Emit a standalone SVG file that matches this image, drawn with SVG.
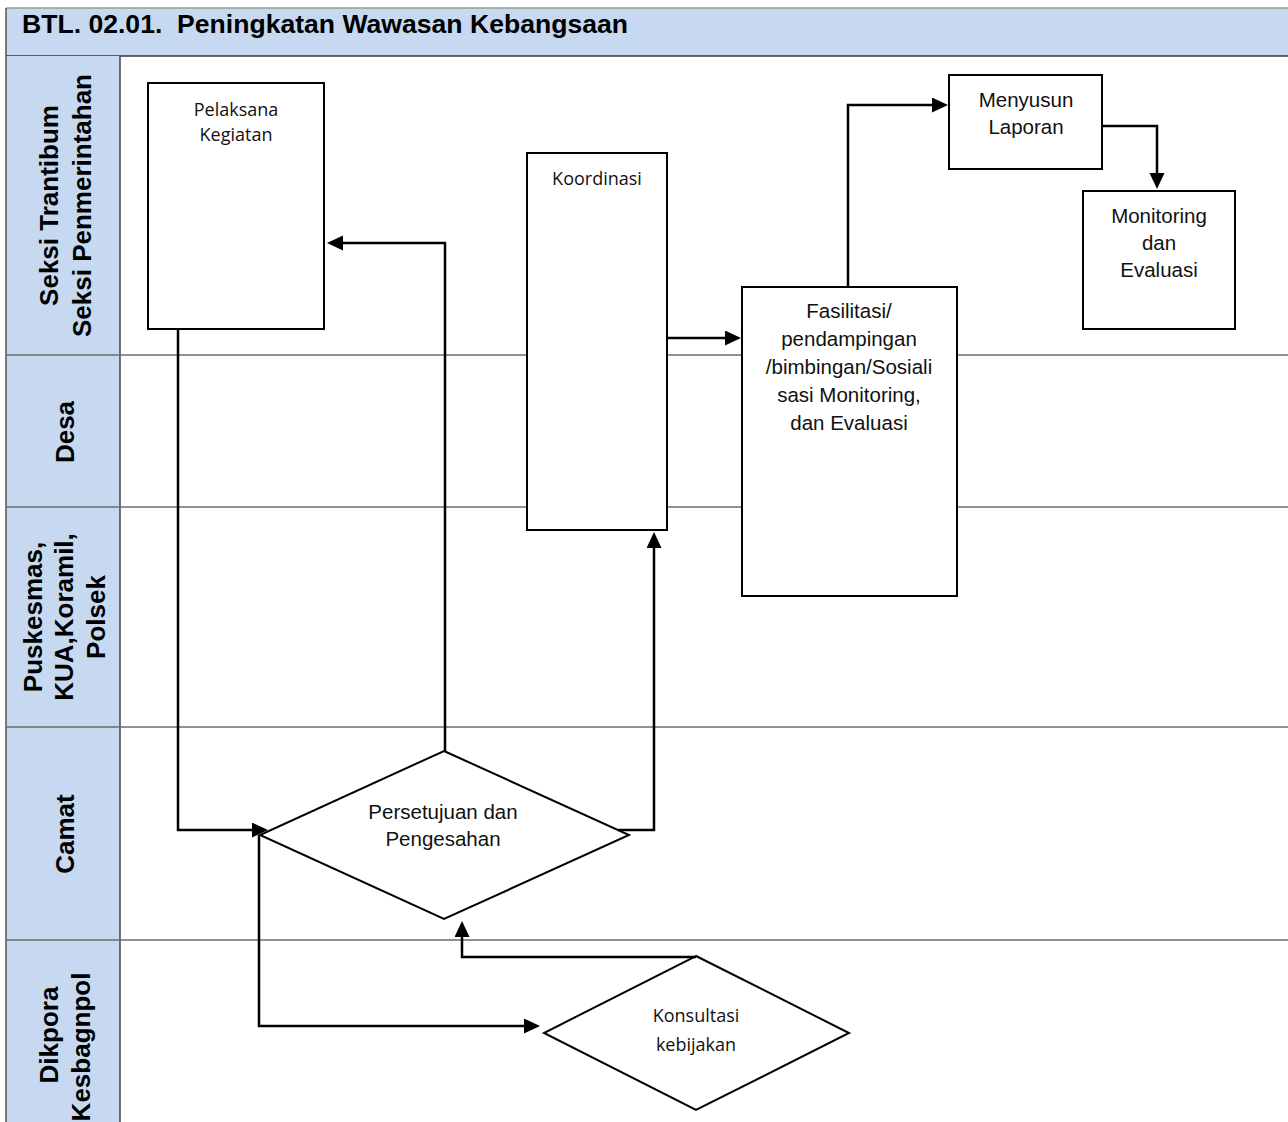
<svg xmlns="http://www.w3.org/2000/svg" width="1288" height="1122" viewBox="0 0 1288 1122">
<style>
.hdr{fill:#c6d9f1}
.lbl{font-family:"Liberation Sans",Arial,sans-serif;font-weight:bold;font-size:26px;text-anchor:middle;fill:#000}
.lane{stroke:#6b6b6b;stroke-width:1.5;fill:none}
.box{fill:#fff;stroke:#000;stroke-width:2}
.ta{font-family:"Liberation Sans",Arial,sans-serif;font-size:20.5px;text-anchor:middle;fill:#111}
.tc{font-family:"Open Sans","Noto Sans",sans-serif;font-size:18px;text-anchor:middle;fill:#111}
.con{fill:none;stroke:#000;stroke-width:2.5;marker-end:url(#arr)}
</style>
<defs>
<marker id="arr" markerUnits="userSpaceOnUse" markerWidth="17" markerHeight="16" refX="10" refY="7.5" orient="auto">
<path d="M0,0 L16,7.5 L0,15 z" fill="#000"/>
</marker>
</defs>
<rect width="1288" height="1122" fill="#fff"/>
<g id="header">
<rect class="hdr" x="6" y="8" width="1290" height="48"/>
<line x1="6" y1="8" x2="1288" y2="8" stroke="#999" stroke-width="1.5"/>
<line x1="6" y1="56" x2="1288" y2="56" stroke="#333" stroke-width="1.5"/>
<text x="22" y="33" font-family="Liberation Sans, Arial, sans-serif" font-weight="bold" font-size="25" textLength="606" lengthAdjust="spacingAndGlyphs" xml:space="preserve">BTL. 02.01.  Peningkatan Wawasan Kebangsaan</text>
</g>
<g id="lanes">
<rect class="hdr" x="6" y="56" width="114" height="1070"/>
<line x1="6" y1="8" x2="6" y2="1122" stroke="#555" stroke-width="1.5"/>
<line x1="120" y1="56" x2="120" y2="1122" stroke="#444" stroke-width="1.5"/>
<line class="lane" x1="6" y1="355" x2="1288" y2="355"/>
<line class="lane" x1="6" y1="507" x2="1288" y2="507"/>
<line class="lane" x1="6" y1="727" x2="1288" y2="727"/>
<line class="lane" x1="6" y1="940" x2="1288" y2="940"/>
<text class="lbl" transform="translate(58,205.5) rotate(-90)">Seksi Trantibum</text>
<text class="lbl" transform="translate(91,205.5) rotate(-90)">Seksi Penmerintahan</text>
<text class="lbl" transform="translate(74,432) rotate(-90)">Desa</text>
<text class="lbl" transform="translate(42,617) rotate(-90)">Puskesmas,</text>
<text class="lbl" transform="translate(73,617) rotate(-90)">KUA,Koramil,</text>
<text class="lbl" transform="translate(105,617) rotate(-90)">Polsek</text>
<text class="lbl" transform="translate(74,834) rotate(-90)">Camat</text>
<text class="lbl" transform="translate(58,1035) rotate(-90)">Dikpora</text>
<text class="lbl" transform="translate(90,1047) rotate(-90)">Kesbagnpol</text>
</g>
<g id="n-pelaksana">
<rect class="box" x="148" y="83" width="176" height="246"/>
<text class="tc" x="236" y="116">Pelaksana</text>
<text class="tc" x="236" y="141">Kegiatan</text>
</g>
<g id="n-koordinasi">
<rect class="box" x="527" y="153" width="140" height="377"/>
<text class="tc" x="597" y="185">Koordinasi</text>
</g>
<g id="n-fasilitasi">
<rect class="box" x="742" y="287" width="215" height="309"/>
<text class="ta" x="849" y="317.5">Fasilitasi/</text>
<text class="ta" x="849" y="345.5">pendampingan</text>
<text class="ta" x="849" y="373.5">/bimbingan/Sosiali</text>
<text class="ta" x="849" y="401.5">sasi Monitoring,</text>
<text class="ta" x="849" y="429.5">dan Evaluasi</text>
</g>
<g id="n-menyusun">
<rect class="box" x="949" y="75" width="153" height="94"/>
<text class="ta" x="1026" y="106.5">Menyusun</text>
<text class="ta" x="1026" y="134">Laporan</text>
</g>
<g id="n-monitoring">
<rect class="box" x="1083" y="191" width="152" height="138"/>
<text class="ta" x="1159" y="222.5">Monitoring</text>
<text class="ta" x="1159" y="249.5">dan</text>
<text class="ta" x="1159" y="277">Evaluasi</text>
</g>
<g id="n-persetujuan">
<polygon class="box" points="444,751 629,835 444,919 260,835"/>
<text class="ta" x="443" y="819">Persetujuan dan</text>
<text class="ta" x="443" y="846">Pengesahan</text>
</g>
<g id="n-konsultasi">
<polygon class="box" points="696,956 849,1033 696,1110 544,1033"/>
<text class="tc" x="696" y="1021.5">Konsultasi</text>
<text class="tc" x="696" y="1051">kebijakan</text>
</g>
<g id="connectors">
<path class="con" d="M178,329 V830 H262"/>
<path class="con" d="M259,835 V1026 H534"/>
<path class="con" d="M445,751 V243 H333"/>
<path class="con" d="M618,830 H654 V538"/>
<path class="con" d="M667,338 H735"/>
<path class="con" d="M848,287 V105 H942"/>
<path class="con" d="M1102,126 H1157 V183"/>
<path class="con" d="M696,957 H462 V927"/>
</g>
</svg>
